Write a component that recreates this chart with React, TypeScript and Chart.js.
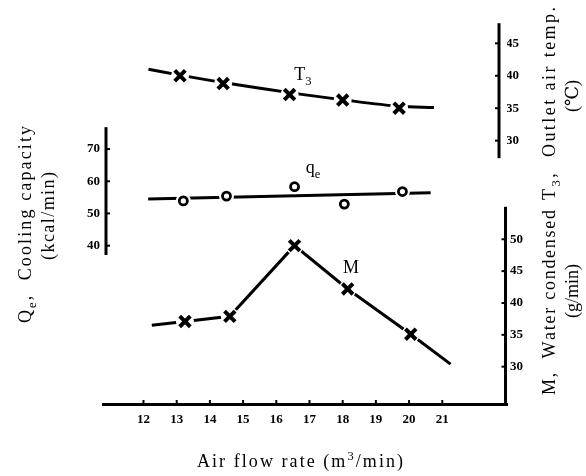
import React, { useEffect, useRef } from "react";
import { Chart, registerables } from "chart.js";

Chart.register(...registerables);

// ---------- data ----------
const xTicks = [12, 13, 14, 15, 16, 17, 18, 19, 20, 21];
const t3Ticks = [30, 35, 40, 45];
const mTicks = [30, 35, 40, 45, 50];
const qeTicks = [40, 50, 60, 70];

// T3 outlet air temp (°C)
const t3Flow = [13.1, 14.4, 16.4, 18.0, 19.7];
const t3Temp = [40.0, 38.8, 37.1, 36.25, 35.0];
const t3CurveFlow = [12.15, 13.1, 14.4, 16.4, 18.0, 19.7, 20.75];
const t3CurveTemp = [41.0, 40.1, 38.95, 37.4, 36.3, 35.3, 35.1];

// qe cooling capacity (kcal/min)
const qeFlow = [13.2, 14.5, 16.55, 18.05, 19.8];
const qeCap = [53.9, 55.4, 58.3, 52.9, 56.8];
const qeLineFlow = [12.14, 20.65];
const qeLineCap = [54.5, 56.4];

// M water condensed (g/min)
const mFlow = [13.25, 14.6, 16.55, 18.15, 20.05];
const mWater = [37.1, 37.9, 49.0, 42.2, 35.1];
const mLineFlow = [12.25, 13.25, 14.6, 16.55, 18.15, 20.05, 21.25];
const mLineWater = [36.5, 37.1, 37.9, 49.0, 42.2, 35.1, 30.4];

const pts = (xs: number[], ys: number[]) => xs.map((x, i) => ({ x, y: ys[i] }));

const SERIF = '"Liberation Serif", "DejaVu Serif", serif';

type Seg = { t: string; sub?: boolean; sup?: boolean };

function drawText(
  ctx: CanvasRenderingContext2D,
  segs: Seg[],
  size: number,
  cx: number,
  cy: number,
  rotated: boolean,
  length?: number,
  spacing = 0
) {
  const chars: { ch: string; font: string; dy: number; w: number }[] = [];
  for (const s of segs) {
    const fs = s.sub || s.sup ? size * 0.7 : size;
    const font = `${fs}px ${SERIF}`;
    const dy = s.sub ? size * 0.25 : s.sup ? -size * 0.4 : 0;
    ctx.font = font;
    for (const ch of Array.from(s.t)) {
      chars.push({ ch, font, dy, w: ctx.measureText(ch).width });
    }
  }
  const natural = chars.reduce((a, c) => a + c.w, 0);
  const sp = length !== undefined ? (length - natural) / (chars.length - 1) : spacing;
  const total = natural + sp * (chars.length - 1);
  ctx.save();
  ctx.translate(cx, cy);
  if (rotated) ctx.rotate(-Math.PI / 2);
  ctx.fillStyle = "#000";
  ctx.textBaseline = "alphabetic";
  ctx.textAlign = "left";
  let pos = -total / 2;
  for (const c of chars) {
    ctx.font = c.font;
    ctx.fillText(c.ch, pos, c.dy);
    pos += c.w + sp;
  }
  ctx.restore();
}

const decorPlugin = {
  id: "decor",
  afterDraw(chart: any) {
    const ctx: CanvasRenderingContext2D = chart.ctx;
    const { x, t3, m, qe } = chart.scales;
    const area = chart.chartArea;
    ctx.save();
    ctx.strokeStyle = "#000";
    ctx.lineCap = "butt";

    // T3 axis (upper right)
    const t3x = area.right - 8;
    ctx.lineWidth = 3;
    ctx.beginPath();
    ctx.moveTo(t3x, t3.getPixelForValue(48.1));
    ctx.lineTo(t3x, t3.getPixelForValue(27.3));
    ctx.stroke();
    ctx.lineWidth = 2;
    for (const v of t3Ticks) {
      const py = t3.getPixelForValue(v);
      ctx.beginPath();
      ctx.moveTo(t3x - 4, py);
      ctx.lineTo(t3x, py);
      ctx.stroke();
    }

    // M axis (lower right)
    const mx = area.right - 1.5;
    ctx.lineWidth = 3;
    ctx.beginPath();
    ctx.moveTo(mx, m.getPixelForValue(55.1));
    ctx.lineTo(mx, area.bottom + 1.5);
    ctx.stroke();
    ctx.lineWidth = 2;
    for (const v of mTicks) {
      const py = m.getPixelForValue(v);
      ctx.beginPath();
      ctx.moveTo(mx - 4, py);
      ctx.lineTo(mx, py);
      ctx.stroke();
    }

    // Qe axis (left)
    const qx = area.left + 3;
    ctx.lineWidth = 3;
    ctx.beginPath();
    ctx.moveTo(qx, qe.getPixelForValue(76.8));
    ctx.lineTo(qx, qe.getPixelForValue(37.1));
    ctx.stroke();
    ctx.lineWidth = 2;
    for (const v of qeTicks) {
      const py = qe.getPixelForValue(v);
      ctx.beginPath();
      ctx.moveTo(qx, py);
      ctx.lineTo(qx + 4, py);
      ctx.stroke();
    }

    // x axis tick nubs
    for (const v of xTicks) {
      const px = x.getPixelForValue(v);
      ctx.beginPath();
      ctx.moveTo(px, area.bottom - 4);
      ctx.lineTo(px, area.bottom);
      ctx.stroke();
    }
    ctx.restore();

    // curve labels
    drawText(ctx, [{ t: "T" }, { t: "3", sub: true }], 18, 303, 80, false, undefined, 0);
    drawText(ctx, [{ t: "q" }, { t: "e", sub: true }], 18, 313, 173, false, undefined, 0);
    drawText(ctx, [{ t: "M" }], 18, 351, 273, false, undefined, 0);

    // axis titles
    drawText(ctx, [{ t: "Air flow rate (m" }, { t: "3", sup: true }, { t: "/min)" }], 18, 300, 467, false, 206);
    drawText(ctx, [{ t: "Q" }, { t: "e", sub: true }, { t: ",  Cooling capacity" }], 18, 31, 224.5, true, 197);
    drawText(ctx, [{ t: "(kcal/min)" }], 18, 54, 216, true, 88);
    drawText(ctx, [{ t: "T" }, { t: "3", sub: true }, { t: ",  Outlet air temp." }], 18, 555, 103.5, true, 193);
    drawText(ctx, [{ t: "(℃)" }], 18, 578, 96, true, 32);
    drawText(ctx, [{ t: "M,  Water condensed" }], 18, 555, 302.5, true, 185);
    drawText(ctx, [{ t: "(g/min)" }], 18, 578, 291, true, 54);
  },
};

export default function App() {
  const ref = useRef<HTMLCanvasElement>(null);

  useEffect(() => {
    document.body.style.margin = "0";
    const canvas = ref.current!;
    const tickFont = { family: SERIF, size: 13, weight: "bold" };
    const noGrid = { display: false, drawTicks: false };
    const cross = {
      showLine: false,
      pointStyle: "crossRot" as const,
      pointRadius: 7.5,
      pointBorderWidth: 4,
      pointBorderColor: "#000",
      borderColor: "#000",
    };
    const mask = (r: number) => ({
      showLine: false,
      pointStyle: "circle" as const,
      pointRadius: r,
      pointBorderWidth: 0,
      pointBackgroundColor: "#fff",
      pointBorderColor: "#fff",
      borderColor: "#fff",
    });
    const line = {
      pointRadius: 0,
      borderWidth: 3,
      borderColor: "#000",
      fill: false,
    };

    const chart = new Chart(canvas, {
      type: "line",
      data: {
        datasets: [
          { ...cross, data: pts(t3Flow, t3Temp), yAxisID: "t3" },
          { ...cross, data: pts(mFlow, mWater), yAxisID: "m" },
          {
            data: pts(qeFlow, qeCap),
            yAxisID: "qe",
            showLine: false,
            pointStyle: "circle",
            pointRadius: 4,
            pointBorderWidth: 2.8,
            pointBorderColor: "#000",
            pointBackgroundColor: "#fff",
            borderColor: "#000",
          },
          { ...mask(9), data: pts(t3Flow, t3Temp), yAxisID: "t3" },
          { ...mask(9), data: pts(mFlow, mWater), yAxisID: "m" },
          { ...mask(7.5), data: pts(qeFlow, qeCap), yAxisID: "qe" },
          {
            ...line,
            data: pts(t3CurveFlow, t3CurveTemp),
            yAxisID: "t3",
            tension: 0.4,
            cubicInterpolationMode: "monotone",
          },
          { ...line, data: pts(mLineFlow, mLineWater), yAxisID: "m", tension: 0 },
          { ...line, data: pts(qeLineFlow, qeLineCap), yAxisID: "qe", tension: 0 },
        ] as any,
      },
      options: {
        animation: false,
        responsive: false,
        devicePixelRatio: 1,
        layout: { padding: { top: 23, bottom: 0, left: 0, right: 0 } },
        plugins: { legend: { display: false }, tooltip: { enabled: false } },
        events: [],
        scales: {
          x: {
            type: "linear",
            position: "bottom",
            min: 10.78,
            max: 22.95,
            grid: noGrid,
            border: { display: true, color: "#000", width: 3 },
            ticks: { font: tickFont, color: "#000", padding: 8, maxRotation: 0 },
            afterBuildTicks: (s: any) => {
              s.ticks = xTicks.map((v) => ({ value: v }));
            },
            afterFit: (s: any) => {
              s.height = 72;
            },
          },
          t3: {
            type: "linear",
            position: "right",
            stack: "right",
            stackWeight: 158,
            min: 23.78,
            max: 48.13,
            grid: noGrid,
            border: { display: false },
            ticks: { font: tickFont, color: "#000", padding: -1 },
            afterBuildTicks: (s: any) => {
              s.ticks = t3Ticks.map((v) => ({ value: v }));
            },
            afterFit: (s: any) => {
              s.width = 79;
            },
          },
          m: {
            type: "linear",
            position: "right",
            stack: "right",
            stackWeight: 223,
            min: 24.14,
            max: 59.15,
            grid: noGrid,
            border: { display: false },
            ticks: { font: tickFont, color: "#000", padding: 3 },
            afterBuildTicks: (s: any) => {
              s.ticks = mTicks.map((v) => ({ value: v }));
            },
            afterFit: (s: any) => {
              s.width = 79;
            },
          },
          qe: {
            type: "linear",
            position: "left",
            min: -9.16,
            max: 109.13,
            grid: noGrid,
            border: { display: false },
            ticks: { font: tickFont, color: "#000", padding: 3 },
            afterBuildTicks: (s: any) => {
              s.ticks = qeTicks.map((v) => ({ value: v }));
            },
            afterFit: (s: any) => {
              s.width = 103;
            },
          },
        },
      } as any,
      plugins: [decorPlugin],
    });
    return () => chart.destroy();
  }, []);

  return (
    <div style={{ position: "fixed", left: 0, top: 0, width: 586, height: 476, background: "#fff" }}>
      <canvas ref={ref} width={586} height={476} style={{ width: 586, height: 476, display: "block" }} />
    </div>
  );
}
